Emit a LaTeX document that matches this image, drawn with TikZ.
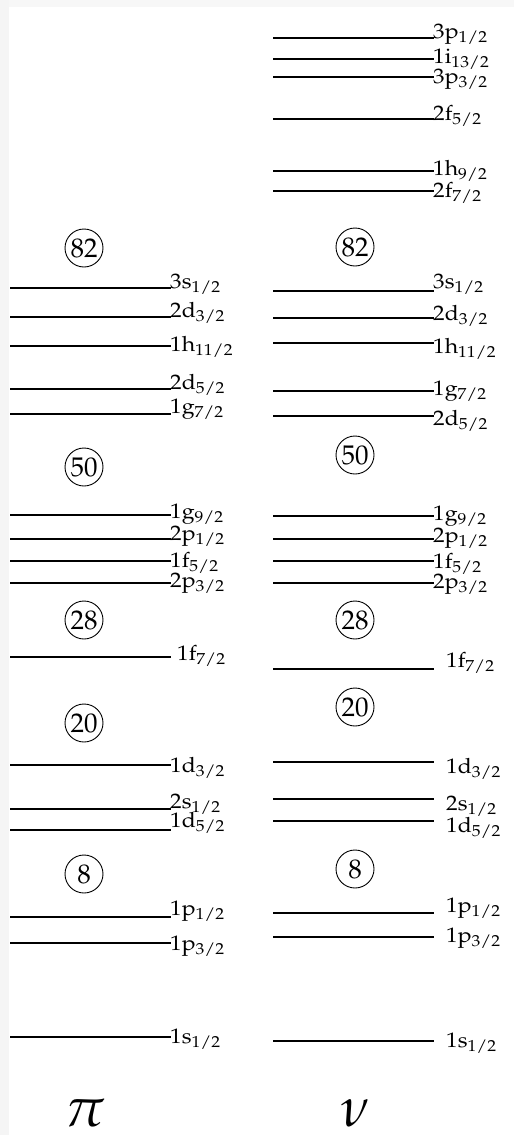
\documentclass[tikz,border=0pt]{standalone}
\usepackage[T1]{fontenc}
\usepackage{mathpazo}
\usepackage{tikz}
\usetikzlibrary{positioning}
\tikzset{
    lvl/.style={line width=1.2pt},
    lvllbl/.style={anchor=base west, inner sep=0pt, font=\fontsize{21}{24}\selectfont},
    magic/.style={draw, circle, line width=0.9pt, minimum size=38pt, inner sep=0pt, font=\fontsize{27}{30}\selectfont},
    species/.style={inner sep=0pt, font=\fontsize{56}{60}\selectfont},
}
\newcommand{\orbit}[2]{\scalebox{1.1}[1]{#1$_{#2/2}$}}

\begin{document}
\begin{tikzpicture}[x=1pt, y=-1pt]
    % page and background
    \fill[white] (0,0) rectangle (514,1135);
    \fill[gray!8] (0,0) rectangle (9,1135);
    \fill[gray!6] (9,0) rectangle (514,7);
    \useasboundingbox (0,0) rectangle (514,1135);

    % proton levels
    \foreach \y/\dy/\lx/\orb/\jj [count=\i] in {
        288/0/170/3s/1, 317/0/170/2d/3, 346/5/170/1h/11, 389/0/170/2d/5, 414/-1/170/1g/7,
        515/3/170/1g/9, 539/1/170/2p/1, 561/6/170/1f/5, 583/4/170/2p/3, 657/3/177/1f/7,
        765/7/170/1d/3, 809/-1/170/2s/1, 830/-3/170/1d/5, 917/-2/170/1p/1, 943/7/170/1p/3,
        1037/6/170/1s/1} {
        \coordinate (p\i a) at (10,\y);
        \coordinate (p\i b) at (171,\y);
        \draw[lvl] (p\i a) -- (p\i b);
        \node[lvllbl] (pl\i) at (\lx,\y+\dy) {\orbit{\orb}{\jj}};
    }

    % neutron levels
    \foreach \y/\dy/\lx/\orb/\jj [count=\i] in {
        38/0/433/3p/1, 59/4/433/1i/13, 77/6/433/3p/3, 119/1/433/2f/5, 171/4/433/1h/9,
        191/6/433/2f/7, 291/-3/433/3s/1, 318/2/433/2d/3, 343/10/433/1h/11, 391/4/433/1g/7,
        416/9/433/2d/5, 516/4/433/1g/9, 539/3/433/2p/1, 561/7/433/1f/5, 583/5/433/2p/3,
        669/-2/446/1f/7, 762/11/446/1d/3, 799/11/446/2s/1, 821/11/446/1d/5, 913/-1/446/1p/1,
        937/5/446/1p/3, 1041/6/446/1s/1} {
        \coordinate (n\i a) at (273,\y);
        \coordinate (n\i b) at (434,\y);
        \draw[lvl] (n\i a) -- (n\i b);
        \node[lvllbl] (nl\i) at (\lx,\y+\dy) {\orbit{\orb}{\jj}};
    }

    % magic numbers
    \node[magic] (pm82) at (84,248) {82};
    \node[magic] (pm50) at (84,467) {50};
    \node[magic] (pm28) at (84,620) {28};
    \node[magic] (pm20) at (84,723) {20};
    \node[magic] (pm8)  at (84,874) {8};
    \node[magic] (nm82) at (355,247) {82};
    \node[magic] (nm50) at (355,455) {50};
    \node[magic] (nm28) at (355,620) {28};
    \node[magic] (nm20) at (355,707) {20};
    \node[magic] (nm8)  at (355,869) {8};

    \node[species] (pi) at (85,1113) {$\pi$};
    \node[species] (nu) at (355,1113) {$\nu$};
\end{tikzpicture}
\end{document}
